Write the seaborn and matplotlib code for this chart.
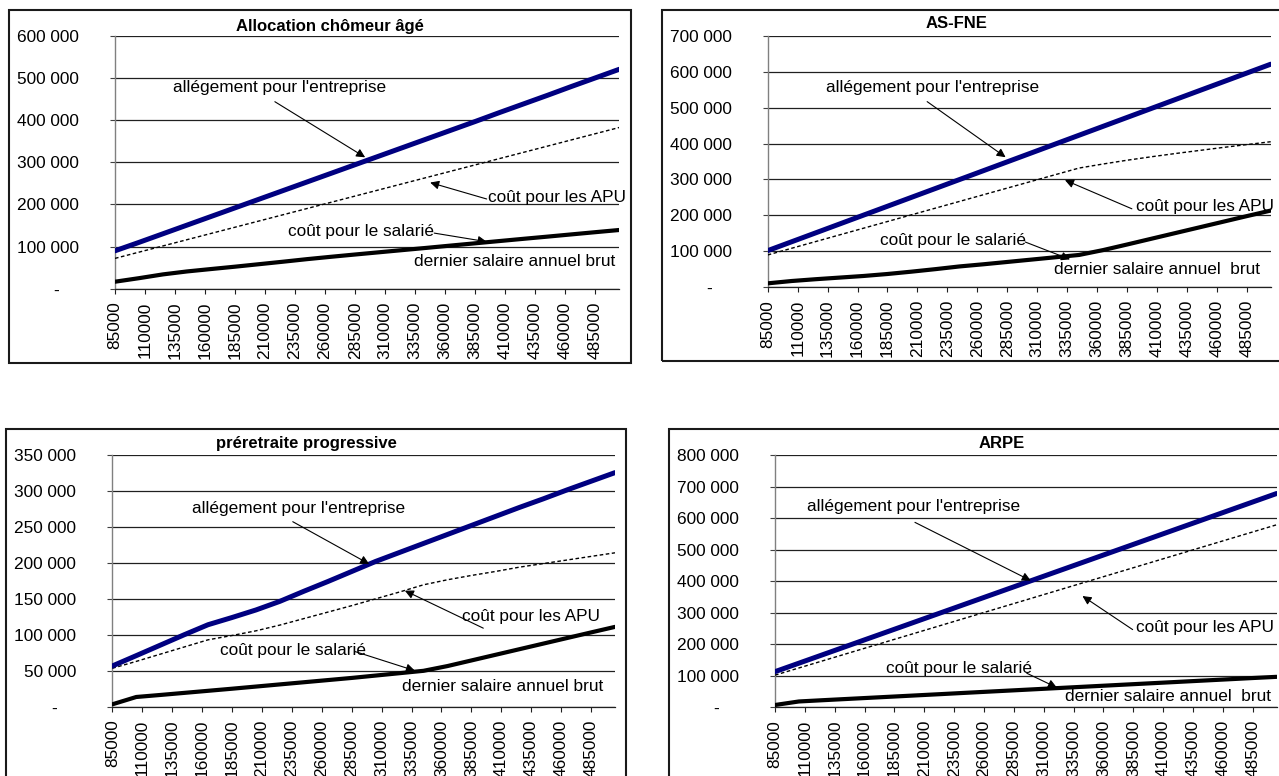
import matplotlib
matplotlib.use("Agg")
import matplotlib.pyplot as plt
import seaborn as sns
import pandas as pd
from matplotlib.patches import Rectangle

# Dernier salaire annuel brut (francs)
salaire = [85000, 105000, 125000, 145000, 165000, 185000, 205000, 225000,
           245000, 265000, 285000, 305000, 325000, 345000, 365000, 385000,
           405000, 425000, 445000, 465000, 485000, 505000]
tick_salaires = [85000, 110000, 135000, 160000, 185000, 210000, 235000, 260000,
                 285000, 310000, 335000, 360000, 385000, 410000, 435000, 460000,
                 485000]

titres = ["Allocation chômeur âgé", "AS-FNE", "préretraite progressive", "ARPE"]

# Allocation chômeur âgé
aca_allegement = [90000, 110000, 130500, 151000, 171500, 192000, 212500, 233000,
                  253500, 274000, 294500, 315000, 335500, 356000, 376500, 397000,
                  418000, 438500, 459000, 480000, 500500, 521000]
aca_cout_apu = [72000, 86800, 101600, 116400, 131200, 146000, 160800, 175600,
                190400, 205200, 220000, 234800, 249600, 264400, 279200, 294000,
                308800, 323600, 338400, 353200, 368000, 382800]
aca_cout_salarie = [16600, 25000, 34000, 41000, 46700, 52300, 58200, 64100,
                    70200, 75800, 81200, 86500, 91800, 97100, 102500, 107800,
                    113100, 118400, 123600, 128900, 134200, 139400]

# AS-FNE
fne_allegement = [102000, 126700, 151400, 176100, 200800, 225500, 250200, 274900,
                  299600, 324300, 349000, 373700, 398400, 423100, 447800, 472500,
                  497200, 521900, 546600, 571300, 596000, 620700]
fne_cout_apu = [90000, 108600, 127200, 145800, 164400, 183000, 201600, 220200,
                238800, 257400, 276000, 294600, 313200, 331800, 343000, 353500,
                363000, 372000, 380500, 389000, 397000, 405000]
fne_cout_salarie = [11000, 17500, 22500, 27000, 31500, 37000, 43500, 50500,
                    58000, 64000, 70500, 77000, 83500, 90000, 103500, 119000,
                    134800, 150600, 166400, 182200, 198000, 213500]

# Préretraite progressive
prp_allegement = [56600, 71000, 85500, 100000, 114000, 124000, 134500, 146500,
                  160500, 174000, 188000, 202000, 214500, 227000, 239500, 252000,
                  264500, 277000, 289000, 301500, 313500, 325500]
prp_cout_apu = [53400, 63000, 73000, 83000, 93000, 99000, 105500, 113500,
                122500, 131500, 140500, 150000, 159500, 169500, 176500, 182500,
                188000, 194000, 199000, 204000, 209000, 214000]
prp_cout_salarie = [3300, 13500, 16300, 19200, 22100, 25000, 28000, 31000,
                    34000, 37000, 40000, 43300, 46600, 49900, 56500, 64300,
                    72100, 79900, 87700, 95500, 103300, 111000]

# ARPE
arpe_allegement = [113000, 139900, 166800, 193700, 220600, 247500, 274400, 301300,
                   328200, 355100, 382000, 408900, 435800, 462700, 489600, 516500,
                   543400, 570300, 597200, 624100, 651000, 677900]
arpe_cout_apu = [102000, 124700, 147400, 170100, 192800, 215500, 238200, 260900,
                 283600, 306300, 329000, 351700, 374400, 397100, 419800, 442500,
                 465200, 487900, 510600, 533300, 556000, 578700]
arpe_cout_salarie = [7300, 18500, 22500, 26400, 30300, 34200, 38100, 42000,
                     46000, 49900, 53800, 57700, 61600, 65500, 69400, 73300,
                     77200, 81100, 85000, 88900, 92800, 96600]

y_max = [600000, 700000, 350000, 800000]
y_pas = [100000, 100000, 50000, 100000]

lib_allegement = "allégement pour l'entreprise"
lib_apu = "coût pour les APU"
lib_salarie = "coût pour le salarié"
lib_brut = ["dernier salaire annuel brut", "dernier salaire annuel  brut",
            "dernier salaire annuel brut", "dernier salaire annuel  brut"]

series = [
    (aca_allegement, aca_cout_apu, aca_cout_salarie),
    (fne_allegement, fne_cout_apu, fne_cout_salarie),
    (prp_allegement, prp_cout_apu, prp_cout_salarie),
    (arpe_allegement, arpe_cout_apu, arpe_cout_salarie),
]

# ---- layout (pixels, origin top-left) ----
W, H = 1279, 776
plot_px = [  # left, right, top, bottom of each plot area
    (115.0, 619.3, 36.0, 288.7),
    (767.7, 1270.7, 35.7, 287.3),
    (112.3, 615.0, 455.0, 706.7),
    (775.0, 1276.6, 455.0, 707.3),
]
box_px = [  # left, right, top, bottom of each chart frame
    (9.0, 630.7, 10.0, 363.3),
    (661.7, 1290.0, 10.0, 361.0),
    (5.7, 625.7, 429.3, 790.0),
    (669.0, 1290.0, 429.3, 790.0),
]
# label / arrow placements in axes fraction
title_pos = [(0.427, 1.037), (0.376, 1.047), (0.387, 1.044), (0.452, 1.046)]
ent_txt = [(0.327, 0.797), (0.327, 0.795), (0.371, 0.788), (0.277, 0.795)]
ent_arr = [((0.317, 0.740), (0.496, 0.520)), ((0.317, 0.738), (0.473, 0.517)),
           ((0.359, 0.735), (0.511, 0.567)), ((0.279, 0.733), (0.510, 0.502))]
apu_txt = [(0.877, 0.360), (0.869, 0.320), (0.832, 0.358), (0.857, 0.316)]
apu_arr = [((0.737, 0.355), (0.625, 0.420)), ((0.724, 0.312), (0.591, 0.426)),
           ((0.738, 0.312), (0.582, 0.461)), ((0.713, 0.308), (0.613, 0.441))]
sal_txt = [(0.488, 0.226), (0.368, 0.185), (0.360, 0.223), (0.366, 0.155)]
sal_arr = [((0.633, 0.220), (0.737, 0.186)), ((0.512, 0.180), (0.601, 0.111)),
           ((0.483, 0.219), (0.602, 0.143)), ((0.502, 0.135), (0.562, 0.078))]
brut_txt = [(0.793, 0.107), (0.773, 0.069), (0.776, 0.080), (0.784, 0.042)]

sns.set_theme(style="white")
plt.rcParams["font.family"] = ["Liberation Sans", "DejaVu Sans"]
FS = 12.4

fig = plt.figure(figsize=(W / 100, H / 100), dpi=100)
fig.patch.set_facecolor("white")


def fmt_y(v):
    if v == 0:
        return "-    "
    return f"{int(v):,}".replace(",", " ")


for i in range(4):
    l, r, t, b = plot_px[i]
    ax = fig.add_axes([l / W, 1 - b / H, (r - l) / W, (b - t) / H])

    bl, br, bt, bb = box_px[i]
    fig.patches.append(Rectangle((bl / W, 1 - bb / H), (br - bl) / W, (bb - bt) / H,
                                 transform=fig.transFigure, fill=False,
                                 edgecolor="#1a1a1a", linewidth=1.5, zorder=0))

    allg, apu, sal = series[i]
    df = pd.DataFrame({"salaire": salaire, "allegement": allg,
                       "apu": apu, "salarie": sal})

    sns.lineplot(data=df, x="salaire", y="apu", ax=ax, color="black",
                 linewidth=1.0, linestyle=(0, (2.6, 1.8)), legend=False, zorder=3)
    sns.lineplot(data=df, x="salaire", y="salarie", ax=ax, color="black",
                 linewidth=3.0, legend=False, zorder=4, solid_capstyle="round")
    sns.lineplot(data=df, x="salaire", y="allegement", ax=ax, color="#000080",
                 linewidth=3.6, legend=False, zorder=5, solid_capstyle="round")

    ax.set_xlim(salaire[0], salaire[-1])
    ax.set_ylim(0, y_max[i])
    yt = list(range(0, y_max[i] + 1, y_pas[i]))
    ax.set_yticks(yt)
    ax.set_yticklabels([fmt_y(v) for v in yt], fontsize=FS, color="black")
    ax.set_xticks(tick_salaires)
    ax.set_xticklabels([str(v) for v in tick_salaires], rotation=90,
                       fontsize=FS, color="black")
    ax.set_xlabel("")
    ax.set_ylabel("")

    ax.tick_params(axis="y", direction="out", length=3.6, width=0.8,
                   color="#404040", pad=22.3, left=True)
    ax.tick_params(axis="x", direction="out", length=3.6, width=0.8,
                   color="#202020", pad=5.5, bottom=True)

    ax.yaxis.grid(True, color="#202020", linewidth=0.9)
    ax.xaxis.grid(False)
    ax.set_axisbelow(True)
    for s in ("top", "right"):
        ax.spines[s].set_visible(False)
    ax.spines["left"].set_color("#808080")
    ax.spines["left"].set_linewidth(1.0)
    ax.spines["bottom"].set_color("#202020")
    ax.spines["bottom"].set_linewidth(0.9)
    ax.patch.set_alpha(0)

    ax.text(*title_pos[i], titres[i], transform=ax.transAxes, ha="center",
            va="center", fontsize=12, fontweight="bold", color="black")

    txt_kw = dict(transform=ax.transAxes, ha="center", va="center",
                  fontsize=FS, color="black", zorder=6)
    ax.text(*ent_txt[i], lib_allegement, **txt_kw)
    ax.text(*apu_txt[i], lib_apu, **txt_kw)
    ax.text(*sal_txt[i], lib_salarie, **txt_kw)
    ax.text(*brut_txt[i], lib_brut[i], **txt_kw)

    arrow_kw = dict(arrowstyle="-|>", color="black", lw=0.8,
                    shrinkA=0, shrinkB=0, mutation_scale=13)
    for tail, head in (ent_arr[i], apu_arr[i], sal_arr[i]):
        ax.annotate("", xy=head, xytext=tail, xycoords="axes fraction",
                    textcoords="axes fraction", arrowprops=arrow_kw,
                    annotation_clip=False, zorder=7)

fig.savefig("out.png", dpi=100, facecolor="white")
